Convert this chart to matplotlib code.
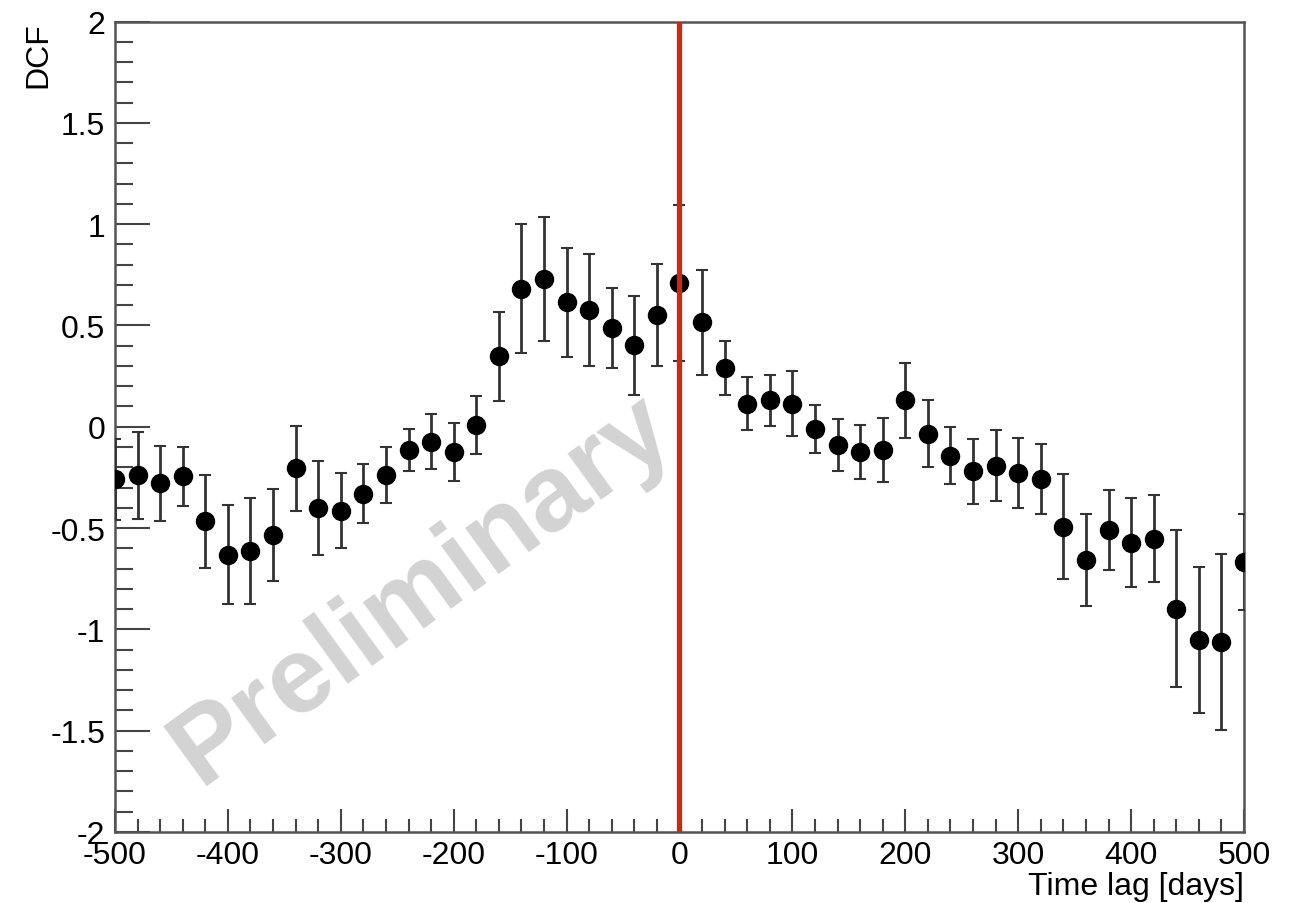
import matplotlib.pyplot as plt
import numpy as np
from matplotlib.ticker import MultipleLocator

plt.rcParams['font.family'] = ['Liberation Sans', 'DejaVu Sans']
plt.rcParams['axes.unicode_minus'] = False

# time lag bins (days)
lag = [-500, -480, -460, -440, -420, -400, -380, -360, -340, -320, -300,
       -280, -260, -240, -220, -200, -180, -160, -140, -120, -100, -80,
       -60, -40, -20, 0, 20, 40, 60, 80, 100, 120, 140, 160, 180, 200,
       220, 240, 260, 280, 300, 320, 340, 360, 380, 400, 420, 440, 460,
       480, 500]

# DCF values
dcf = [-0.26, -0.24, -0.28, -0.245, -0.466, -0.632, -0.614, -0.534, -0.205,
       -0.402, -0.414, -0.33, -0.239, -0.114, -0.073, -0.125, 0.007, 0.348,
       0.682, 0.727, 0.614, 0.575, 0.489, 0.402, 0.552, 0.709, 0.516, 0.289,
       0.114, 0.13, 0.114, -0.011, -0.089, -0.125, -0.114, 0.13, -0.034,
       -0.143, -0.22, -0.193, -0.227, -0.257, -0.493, -0.659, -0.511, -0.573,
       -0.552, -0.898, -1.052, -1.061, -0.666]

# DCF errors
err = [0.2, 0.215, 0.187, 0.145, 0.23, 0.245, 0.26, 0.227, 0.21, 0.233,
       0.184, 0.145, 0.137, 0.105, 0.137, 0.145, 0.143, 0.22, 0.32, 0.306,
       0.268, 0.276, 0.197, 0.244, 0.253, 0.385, 0.26, 0.132, 0.132, 0.127,
       0.159, 0.119, 0.128, 0.133, 0.157, 0.185, 0.167, 0.141, 0.161, 0.176,
       0.173, 0.172, 0.26, 0.226, 0.198, 0.22, 0.214, 0.387, 0.36, 0.435,
       0.237]

fig = plt.figure(figsize=(12.93, 9.04), dpi=100)
ax = fig.add_axes([0.0889, 0.0786, 0.8732, 0.8965])

# watermark
ax.text(-228, -0.8, 'Preliminary', fontsize=78, fontweight='bold',
        color='#d3d3d3', rotation=36, ha='center', va='center', zorder=0)

ax.errorbar(lag, dcf, yerr=err, fmt='o', color='black', markersize=13,
            ecolor='#333333', elinewidth=2, capsize=4, capthick=1.5, zorder=3)

# zero-lag line
ax.axvline(0, color='#cc2a10', linewidth=3.8, zorder=4)

ax.set_xlim(-500, 500)
ax.set_ylim(-2, 2)

ax.xaxis.set_major_locator(MultipleLocator(100))
ax.xaxis.set_minor_locator(MultipleLocator(20))
ax.yaxis.set_major_locator(MultipleLocator(0.5))
ax.yaxis.set_minor_locator(MultipleLocator(0.1))
ax.yaxis.set_major_formatter(plt.FuncFormatter(lambda v, p: '%g' % v))

ax.tick_params(axis='both', which='both', direction='in', color='#444444',
               width=1.5, labelsize=23)
ax.tick_params(axis='y', which='major', length=25, pad=7)
ax.tick_params(axis='y', which='minor', length=13)
ax.tick_params(axis='x', which='major', length=16.5, pad=6)
ax.tick_params(axis='x', which='minor', length=9.5)

for s in ax.spines.values():
    s.set_color('#555555')
    s.set_linewidth(1.8)

fig.text(0.9621, 0.002, 'Time lag [days]', fontsize=23, ha='right', va='bottom')
fig.text(0.018, 0.975, 'DCF', fontsize=23, rotation=90, ha='left', va='top')

fig.savefig('out.png', dpi=100)
